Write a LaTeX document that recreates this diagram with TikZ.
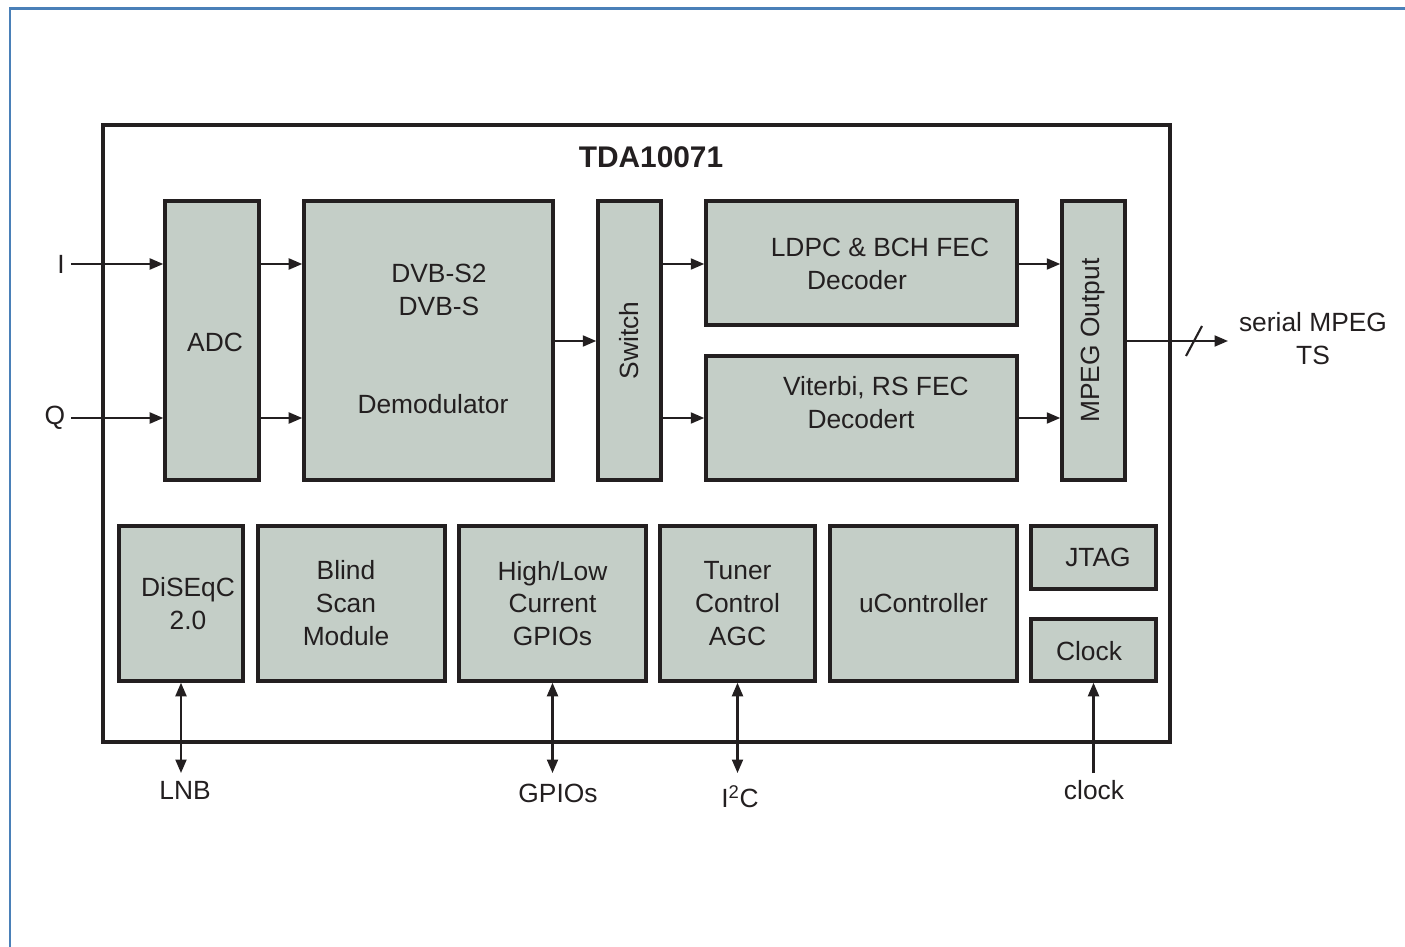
\documentclass[tikz,border=0pt]{standalone}
\usepackage{fontspec}
\setmainfont{Liberation Sans}
\usetikzlibrary{arrows.meta}
\definecolor{blkfill}{HTML}{C4CEC7}
\definecolor{ink}    {HTML}{231F20}
\definecolor{frame}  {HTML}{4A80B8}

\begin{document}
\begin{tikzpicture}[x=0.2mm, y=-0.2mm,
    txt/.style={text=ink, font=\fontsize{15}{18.7}\selectfont, align=center},
    blk/.style={txt, draw=ink, fill=blkfill, line width=2pt},
    chip/.style={draw=ink, line width=2.3pt, minimum width=213.4mm, minimum height=123.4mm},
    sig/.style={-{Triangle[length=2.7mm, width=2.2mm]}, line width=1.2pt, ink},
    bidir/.style={{Triangle[length=2.7mm, width=2.2mm]}-{Triangle[length=2.7mm, width=2.2mm]},
                  line width=1.2pt, ink}
  ]
    \useasboundingbox (0,0) rectangle (1405,947);
    \draw[frame, line width=1.6pt] (10,947) -- (10,8.5) -- (1405,8.5);

    \node[chip] (tda) at (636.5,433.5) {};
    \node[txt, font=\fontsize{17}{20}\selectfont\bfseries] (title) at (651,157) {TDA10071};

    % signal path
    \node[blk, minimum width=18.8mm, minimum height=55.8mm] (adc)   at (212,340.5)  {};
    \node[txt] at (215,342) {ADC};
    \node[blk, minimum width=49.8mm, minimum height=55.8mm] (demod) at (428.5,340.5) {};
    \node[txt] at (433,339) {\hspace*{0.45em}DVB-S2\\\hspace*{0.45em}DVB-S\\[37.4pt]Demodulator};
    \node[blk, minimum width=12.6mm, minimum height=55.8mm] (sw)    at (629.5,340.5) {};
    \node[txt, rotate=90] at (sw) {Switch};
    \node[blk, minimum width=62.2mm, minimum height=24.8mm] (ldpc)  at (861.5,263) {};
    \node[txt] at (857,264) {\hspace*{1.74em}LDPC \& BCH FEC\\Decoder};
    \node[blk, minimum width=62.2mm, minimum height=24.8mm] (vit)   at (861.5,418) {};
    \node[txt] at (861,403) {\hspace*{1.13em}Viterbi, RS FEC\\Decodert};
    \node[blk, minimum width=12.6mm, minimum height=55.8mm] (mpeg)  at (1093.5,340.5) {};
    \node[txt, rotate=90] at (mpeg) {MPEG Output};

    % support blocks
    \node[blk, minimum width=24.8mm, minimum height=31mm] (diseqc) at (181,603.5)   {};
    \node[txt] at (188,604) {DiSEqC\\2.0};
    \node[blk, minimum width=37.4mm, minimum height=31mm] (blind)  at (351.5,603.5) {};
    \node[txt] at (346,603) {Blind\\Scan\\Module};
    \node[blk, minimum width=37.4mm, minimum height=31mm] (gpio)   at (552.5,603.5) {High/Low\\Current\\GPIOs};
    \node[blk, minimum width=31mm,   minimum height=31mm] (tuner)  at (737.5,603.5) {Tuner\\Control\\AGC};
    \node[blk, minimum width=37.4mm, minimum height=31mm] (uctrl)  at (923.5,603.5) {uController};
    \node[blk, minimum width=25mm,   minimum height=12.6mm] (jtag) at (1093.5,557.5) {};
    \node[txt] at (1098,557) {JTAG};
    \node[blk, minimum width=25mm,   minimum height=12.4mm] (clock) at (1093.5,650) {};
    \node[txt] at (1089,651) {Clock};

    % pins
    \node[txt] (inI)   at (61,264)   {I};
    \node[txt] (inQ)   at (55,418)   {Q};
    \node[txt] (ts)    at (1313,339) {serial MPEG\\TS};
    \node[txt] (lnb)   at (185,790)  {LNB};
    \node[txt] (gpios) at (558,793)  {GPIOs};
    \node[txt] (i2c)   at (740,797)  {I\textsuperscript{2}C};
    \node[txt] (clkin) at (1094,790) {clock};

    \coordinate (rowa)  at (0,264);
    \coordinate (rowb)  at (0,418);
    \coordinate (rowm)  at (0,341);
    \coordinate (pins)  at (0,773);
    \coordinate (tsend) at (1228,341);
    \coordinate (bus)   at (1194,341);

    \draw[sig] (inI) -- (adc.west |- rowa);
    \draw[sig] (inQ) -- (adc.west |- rowb);
    \draw[sig] (adc.east |- rowa) -- (demod.west |- rowa);
    \draw[sig] (adc.east |- rowb) -- (demod.west |- rowb);
    \draw[sig] (demod.east |- rowm) -- (sw.west |- rowm);
    \draw[sig] (sw.east |- rowa) -- (ldpc.west |- rowa);
    \draw[sig] (sw.east |- rowb) -- (vit.west |- rowb);
    \draw[sig] (ldpc.east |- rowa) -- (mpeg.west |- rowa);
    \draw[sig] (vit.east |- rowb) -- (mpeg.west |- rowb);
    \draw[sig] (mpeg.east |- rowm) -- (tsend);
    \draw[ink, line width=1.2pt] (bus) ++(-8,15) -- ++(16,-30);

    \draw[bidir] (diseqc.south) -- (diseqc.south |- pins);
    \draw[bidir] (gpio.south) -- (gpio.south |- pins);
    \draw[bidir] (tuner.south) -- (tuner.south |- pins);
    \draw[sig] (clock.south |- pins) -- (clock.south);
\end{tikzpicture}
\end{document}
